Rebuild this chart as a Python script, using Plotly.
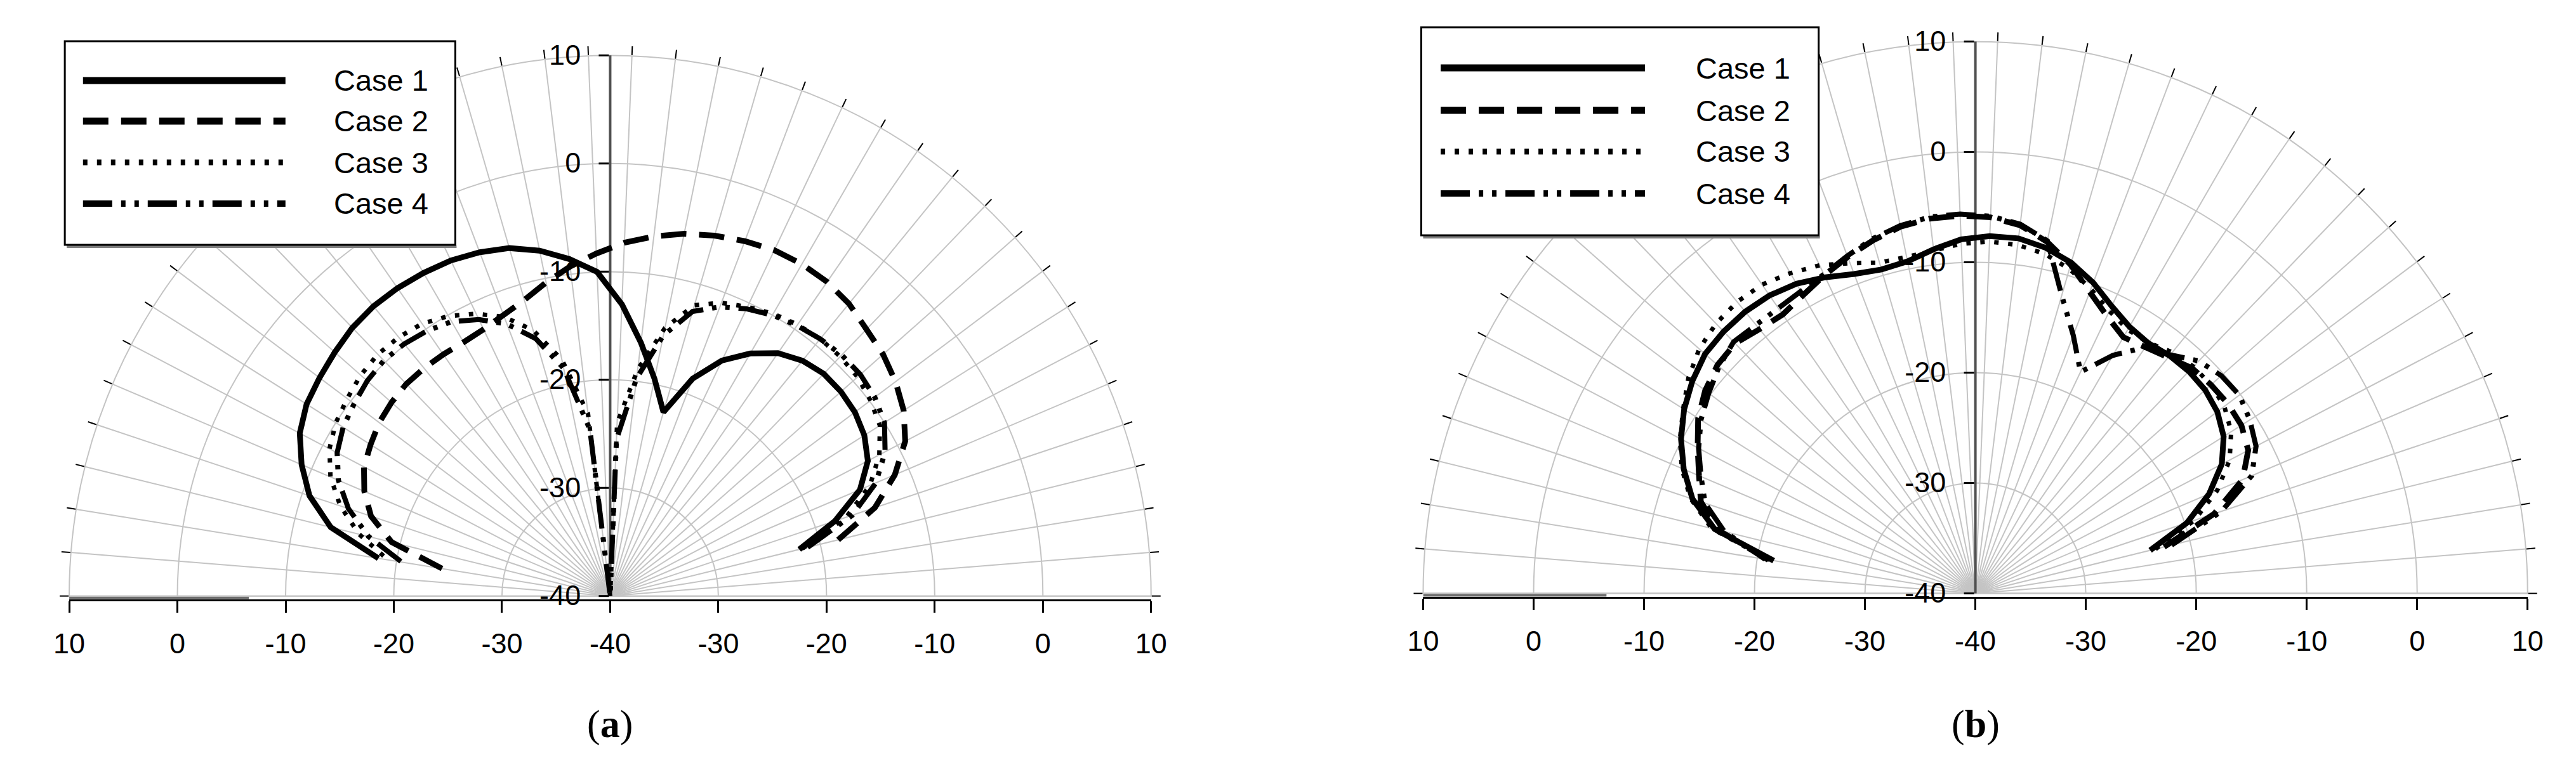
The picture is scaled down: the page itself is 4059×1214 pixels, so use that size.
import plotly.graph_objects as go

W, H = 4059, 1214

# ---------------- data ----------------
SPOKES = 39                      # spokes per half turn (78 categories round the full circle)
STEP = 180.0 / SPOKES
K_FIRST, K_LAST = 3, 37          # spoke indices that carry data
cases = ["Case 1", "Case 2", "Case 3", "Case 4"]

# panel (a): values in dB, one per spoke k = 3 .. 37
a_case1 = [-22.0, -18.1, -14.9, -13.1, -12.2, -11.7, -11.5, -11.5, -11.9, -12.7, -14.1, -15.9,
           -18.5, -22.3, -19.5, -16.4, -13.0, -10.0, -8.6, -7.4, -6.5, -6.0, -5.65, -5.5,
           -5.4, -5.4, -5.6, -6.0, -6.4, -6.8, -7.6, -9.0, -10.7, -13.4, -18.3]
a_case2 = [-18.3, -14.2, -11.4, -9.2, -7.9, -7.0, -6.3, -5.8, -5.1, -4.7, -4.55, -4.6,
           -4.9, -5.3, -5.8, -6.5, -7.3, -8.3, -9.3, -10.4, -11.5, -12.2, -12.7, -12.9,
           -12.85, -12.8, -12.8, -13.0, -13.3, -13.8, -14.3, -15.3, -16.7, -19.2, -24.3]
a_case3 = [-21.7, -17.0, -13.9, -11.9, -10.5, -9.9, -9.45, -9.3, -9.3, -9.5, -9.85, -10.4,
           -11.0, -12.0, -14.7, -18.9, -24.0, -40.0, -23.0, -17.7, -14.4, -12.4, -11.1, -10.1,
           -9.4, -9.1, -9.0, -9.2, -9.6, -10.0, -10.7, -11.9, -13.7, -16.1, -19.2]
a_case4 = [-21.2, -16.4, -13.3, -11.3, -10.0, -9.4, -9.1, -9.1, -9.3, -9.6, -10.0, -10.6,
           -11.4, -12.6, -15.4, -19.7, -25.5, -40.0, -24.5, -18.5, -15.2, -13.1, -11.7, -10.7,
           -10.2, -9.9, -9.8, -10.0, -10.4, -10.8, -11.5, -12.7, -14.5, -17.0, -20.5]

# panel (b)
b_case1 = [-23.7, -19.8, -17.0, -14.8, -13.4, -12.6, -12.2, -12.1, -12.2, -12.45, -12.1, -11.2,
           -9.9, -8.8, -8.05, -7.6, -7.6, -7.9, -8.6, -9.3, -9.45, -9.05, -8.3, -7.6,
           -7.2, -7.05, -7.1, -7.3, -7.95, -8.8, -9.9, -11.3, -13.0, -15.7, -21.5]
b_case2 = [-22.4, -17.2, -13.7, -12.1, -11.5, -11.4, -11.5, -11.7, -12.4, -12.9, -13.2, -12.2,
           -10.8, -9.0, -7.5, -6.4, -5.9, -5.75, -5.8, -6.1, -6.7, -7.4, -8.1, -8.8,
           -9.3, -9.1, -8.6, -8.8, -9.4, -10.3, -11.6, -12.8, -13.8, -16.0, -21.0]
b_case3 = [-23.2, -19.1, -16.2, -14.0, -12.6, -11.8, -11.5, -11.5, -11.8, -12.4, -12.4, -11.7,
           -10.5, -9.4, -8.6, -8.2, -8.1, -8.3, -8.7, -8.9, -8.8, -8.0, -7.1, -6.5,
           -6.0, -5.9, -6.1, -6.6, -7.5, -8.7, -9.8, -11.1, -12.8, -15.4, -21.1]
b_case4 = [-21.7, -16.5, -12.8, -11.3, -10.6, -10.1, -10.25, -10.8, -12.1, -12.9, -15.1, -17.8,
           -15.0, -11.9, -7.4, -6.3, -5.8, -5.6, -5.65, -6.0, -6.55, -7.3, -8.0, -8.4,
           -8.6, -8.6, -8.4, -9.0, -9.8, -10.6, -11.7, -13.0, -14.2, -16.6, -20.7]

R_MIN, R_MAX = -40, 10
r_ticks = [-40, -30, -20, -10, 0, 10]
r_ticktext = ["-40", "-30", "-20", "-10", "0", "10"]
x_ticks = [-50, -40, -30, -20, -10, 0, 10, 20, 30, 40, 50]
x_ticktext = ["10", "0", "-10", "-20", "-30", "-40", "-30", "-20", "-10", "0", "10"]
GREY_BAR = [-50, -33.4]          # grey stub lying on the left end of the base line
captions = ["a", "b"]

theta = [k * STEP for k in range(K_FIRST, K_LAST + 1)]
spoke_vals = [k * STEP for k in range(0, SPOKES + 1)]
NBSP = "\u00a0"

# ---------------- styles / layout geometry (pixels) ----------------
FONT = "Liberation Sans, Arial, sans-serif"
TICK_SIZE = 45
LEGEND_SIZE = 47
styles = [
    dict(width=9, dash="solid"),
    dict(width=9, dash="40px,20px"),
    dict(width=7, dash="7px,15px"),
    dict(width=8, dash="46px,14px,7px,14px,7px,14px"),
]
panels = [
    dict(cx=940, cy=937, R=863, data=[a_case1, a_case2, a_case3, a_case4],
         box=(70, 57, 693, 378), rows=[119, 183, 248, 313], samp=(99, 422), tx=497),
    dict(cx=3118, cy=933, R=881, data=[b_case1, b_case2, b_case3, b_case4],
         box=(2234, 35, 2868, 363), rows=[99, 166, 231, 297], samp=(2265, 2591), tx=2670),
]

fig = go.Figure()
shapes, annotations = [], []
layout = dict(width=W, height=H, margin=dict(l=0, r=0, t=0, b=0),
              paper_bgcolor="white", plot_bgcolor="rgba(0,0,0,0)", showlegend=False)

def px(x):
    return x / W

def py(y):
    return 1 - y / H

for i, p in enumerate(panels):
    n = "" if i == 0 else str(i + 1)
    xd = [px(p["cx"] - p["R"]), px(p["cx"] + p["R"])]
    yd = [py(p["cy"]), py(p["cy"] - p["R"])]
    pol = "polar" + n
    layout[pol] = dict(
        domain=dict(x=xd, y=yd),
        sector=[0, 180],
        bgcolor="rgba(0,0,0,0)",
        radialaxis=dict(range=[R_MIN, R_MAX], angle=90, side="counterclockwise",
                        tickmode="array", tickvals=r_ticks,
                        ticktext=[t + NBSP for t in r_ticktext],
                        tickangle=90,
                        ticks="outside", ticklen=16, tickwidth=3, tickcolor="black",
                        showline=True, linecolor="#505050", linewidth=4,
                        showgrid=True, gridcolor="#c4c4c4", gridwidth=2,
                        layer="below traces",
                        tickfont=dict(family=FONT, size=TICK_SIZE, color="black")),
        angularaxis=dict(rotation=0, direction="counterclockwise",
                         tickmode="array", tickvals=spoke_vals, showticklabels=False,
                         ticks="outside", ticklen=14, tickwidth=2, tickcolor="black",
                         showline=True, linecolor="#c4c4c4", linewidth=2,
                         showgrid=True, gridcolor="#c4c4c4", gridwidth=2,
                         layer="below traces"),
    )
    for j, vals in enumerate(p["data"]):
        fig.add_trace(go.Scatterpolar(r=vals, theta=theta, mode="lines", subplot=pol,
                                      line=dict(color="black", **styles[j]),
                                      name=cases[j], hoverinfo="skip"))
    # base line with symmetric labels
    xa, ya = "xaxis" + n, "yaxis" + n
    layout[xa] = dict(domain=xd, range=[-50, 50], anchor="y" + n, showgrid=False,
                      zeroline=False, showline=True, linecolor="black", linewidth=3,
                      ticks="outside", ticklen=18, tickwidth=3, tickcolor="black",
                      ticklabelstandoff=10,
                      tickmode="array", tickvals=x_ticks, ticktext=x_ticktext,
                      tickfont=dict(family=FONT, size=TICK_SIZE, color="black"),
                      fixedrange=True)
    layout[ya] = dict(domain=yd, range=[0, 1], visible=False, fixedrange=True)
    fig.add_trace(go.Scatter(x=GREY_BAR, y=[3.0 / p["R"]] * 2, mode="lines",
                             xaxis="x" + n, yaxis="y" + n, hoverinfo="skip",
                             line=dict(color="#6e6e6e", width=5)))
    # hand-made legend box
    bx0, by0, bx1, by1 = p["box"]
    shapes.append(dict(type="line", xref="paper", yref="paper",
                       x0=px(bx0 + 3), x1=px(bx1 + 2), y0=py(by1 + 3), y1=py(by1 + 3),
                       line=dict(color="#808080", width=4)))
    shapes.append(dict(type="rect", xref="paper", yref="paper",
                       x0=px(bx0), x1=px(bx1), y0=py(by1), y1=py(by0),
                       line=dict(color="black", width=3), fillcolor="white"))
    for j, ry in enumerate(p["rows"]):
        shapes.append(dict(type="line", xref="paper", yref="paper",
                           x0=px(p["samp"][0]), x1=px(p["samp"][1]), y0=py(ry), y1=py(ry),
                           line=dict(color="black", width=styles[j]["width"] + 2,
                                     dash=styles[j]["dash"])))
        annotations.append(dict(xref="paper", yref="paper", x=px(p["tx"]), y=py(ry),
                                xanchor="left", yanchor="middle", showarrow=False,
                                text=cases[j],
                                font=dict(family=FONT, size=LEGEND_SIZE, color="black")))
    annotations.append(dict(xref="paper", yref="paper", x=px(p["cx"]), y=py(1133),
                            xanchor="center", yanchor="middle", showarrow=False,
                            text="(<b>%s</b>)" % captions[i],
                            font=dict(family="Liberation Serif, Times New Roman, serif",
                                      size=62, color="black")))

layout["shapes"] = shapes
layout["annotations"] = annotations
fig.update_layout(**layout)
fig.write_html("out.html")
